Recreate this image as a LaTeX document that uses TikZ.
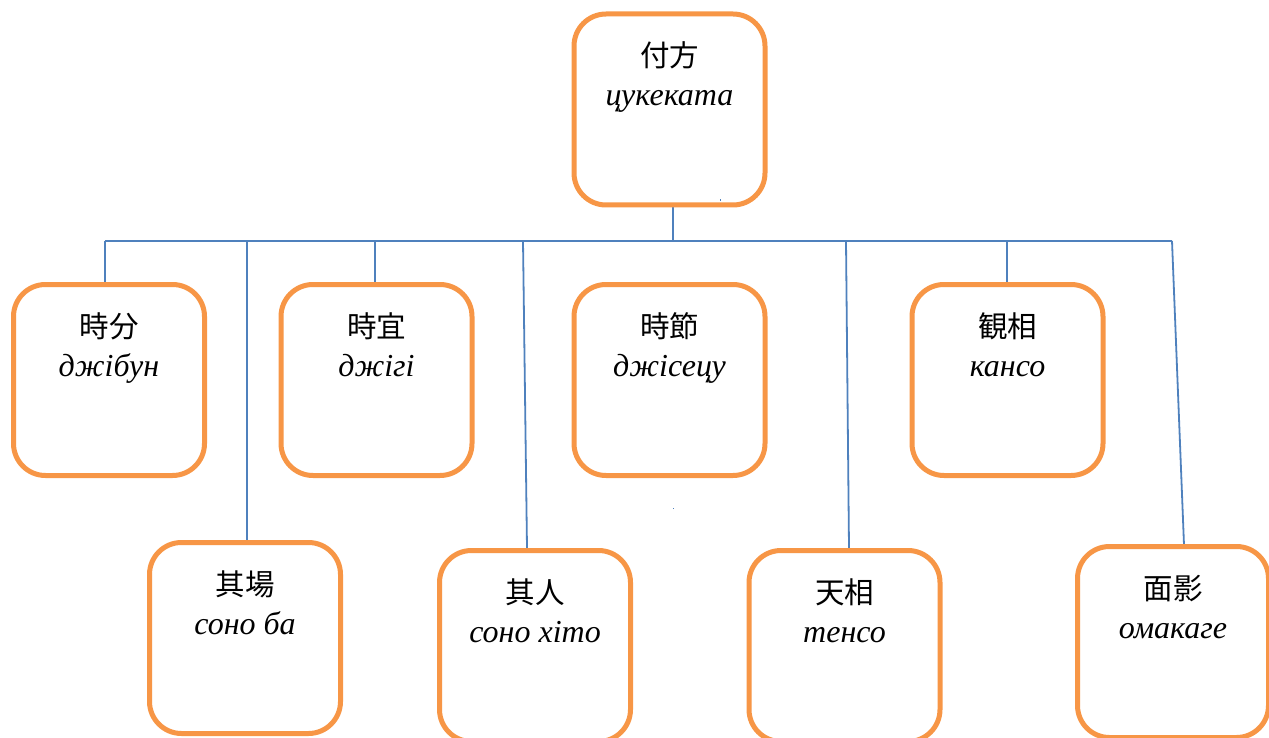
\documentclass[tikz,border=0pt]{standalone}
\usepackage{fontspec}
\setmainfont{Liberation Serif}
\newfontfamily\cjkfont{Noto Sans CJK JP}
\usetikzlibrary{calc}
\definecolor{boxorange}{HTML}{F79646}
\definecolor{lineblue}{HTML}{4F81BD}
\tikzset{
  kbox/.style={draw=boxorange, line width=5pt, rounded corners=32pt, fill=white,
    minimum width=191pt, minimum height=191pt, inner sep=0pt},
  cjktxt/.style={anchor=base, inner sep=0pt, font=\cjkfont\fontsize{29.5}{30}\selectfont},
  romtxt/.style={anchor=base, inner sep=0pt, font=\itshape\fontsize{32}{33}\selectfont},
  link/.style={draw=lineblue, line width=1.8pt},
}
\newcommand\kanjibox[5]{%
  \node[kbox] (#1) at (#2,#3) {};
  \path (#1.north) ++(0,55) node[cjktxt] (#1j) {#4};
  \path (#1.north) ++(0,94) node[romtxt] (#1r) {#5};
}
\begin{document}
\begin{tikzpicture}[x=1pt,y=-1pt]
\useasboundingbox (0,0) rectangle (1269,738);
\clip (0,0) rectangle (1269,738);
% connectors (drawn first)
\coordinate (stem) at (673,241);
\coordinate (t1) at (105,241);
\coordinate (t2) at (247,241);
\coordinate (t3) at (375,241);
\coordinate (t4) at (523,241);
\coordinate (t6) at (846,241);
\coordinate (t7) at (1007,241);
\coordinate (t8) at (1172,241);
\coordinate (e4) at (527,548);
\coordinate (e6) at (849,548);
\coordinate (e8) at (1184,545);
\draw[link] (t1) -- (t8);
\draw[link] (673,207) -- (stem);
\draw[link] (t1) -- (105,284);
\draw[link] (t2) -- (247,541);
\draw[link] (t3) -- (375,284);
\draw[link] (t4) -- (e4);
\draw[link] (t6) -- (e6);
\draw[link] (t7) -- (1007,284);
\draw[link] (t8) -- (e8);
% boxes
\kanjibox{top}{669.5}{109.5}{付方}{цукеката}
\kanjibox{b1}{109}{380}{時分}{джібун}
\kanjibox{b2}{376.5}{380}{時宜}{джігі}
\kanjibox{b3}{669.5}{380}{時節}{джісецу}
\kanjibox{b4}{1007.5}{380}{観相}{кансо}
\kanjibox{c1}{245}{638}{其場}{соно ба}
\kanjibox{c2}{535}{646}{其人}{соно хіто}
\kanjibox{c3}{844.5}{646}{天相}{тенсо}
\kanjibox{c4}{1173}{642}{面影}{омакаге}
% tiny stray marks
\fill[lineblue] (719.5,199.5) rectangle (721,201);
\fill[lineblue] (672.5,507.5) rectangle (674,509);
\end{tikzpicture}
\end{document}
